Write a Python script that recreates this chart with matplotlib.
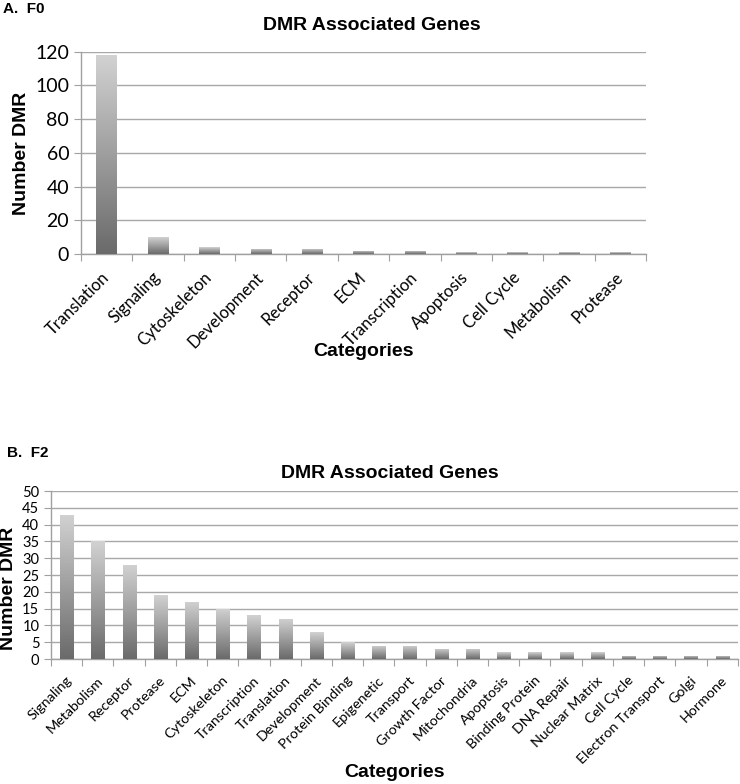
import numpy as np
import matplotlib
matplotlib.use("Agg")
import matplotlib.pyplot as plt
import matplotlib.transforms as mtransforms
from matplotlib.colors import LinearSegmentedColormap

cats_f0 = ["Translation", "Signaling", "Cytoskeleton", "Development", "Receptor", "ECM",
           "Transcription", "Apoptosis", "Cell Cycle", "Metabolism", "Protease"]
vals_f0 = [118, 10, 4, 3, 3, 2, 2, 1, 1, 1, 1]

cats_f2 = ["Signaling", "Metabolism", "Receptor", "Protease", "ECM", "Cytoskeleton",
           "Transcription", "Translation", "Development", "Protein Binding", "Epigenetic",
           "Transport", "Growth Factor", "Mitochondria", "Apoptosis", "Binding Protein",
           "DNA Repair", "Nuclear Matrix", "Cell Cycle", "Electron Transport", "Golgi", "Hormone"]
vals_f2 = [43, 35, 28, 19, 17, 15, 13, 12, 8, 5, 4, 4, 3, 3, 2, 2, 2, 2, 1, 1, 1, 1]

yticks_f0 = [0, 20, 40, 60, 80, 100, 120]
yticks_f2 = [0, 5, 10, 15, 20, 25, 30, 35, 40, 45, 50]

LABEL_FONT = "Lato"
BOLD_FONT = "Liberation Sans"
cmap = LinearSegmentedColormap.from_list("g", ["#6a6a6a", "#d2d2d2"])
grad = np.linspace(0, 1, 256).reshape(-1, 1)

fig = plt.figure(figsize=(7.4, 7.84), dpi=100)


def draw(ax, cats, vals, yticks, width, tick_fs, ylab_fs, pad, dx):
    x = np.arange(len(cats))
    bars = ax.bar(x, vals, width=width, color="none", edgecolor="none", zorder=3)
    for b in bars:
        x0, y0 = b.get_x(), b.get_y()
        w, h = b.get_width(), b.get_height()
        im = ax.imshow(grad, cmap=cmap, origin="lower", aspect="auto",
                       extent=(x0, x0 + w, y0, y0 + h), zorder=3)
        im.set_clip_path(b)
    ax.set_xlim(-0.5, len(cats) - 0.5)
    ax.set_ylim(yticks[0], yticks[-1])
    ax.set_yticks(yticks)
    ax.yaxis.grid(True, color="#a8a8a8", linewidth=1.0, zorder=0)
    ax.set_axisbelow(True)
    for s in ["top", "right"]:
        ax.spines[s].set_visible(False)
    for s in ["left", "bottom"]:
        ax.spines[s].set_color("#a0a0a0")
        ax.spines[s].set_linewidth(1.0)
    ax.set_xticks(np.arange(len(cats) + 1) - 0.5, minor=False)
    ax.set_xticklabels([])
    ax.tick_params(axis="x", which="major", length=5, color="#a0a0a0", direction="out")
    ax.set_xticks(x, minor=True)
    labels = ax.set_xticklabels(cats, minor=True, rotation=45, ha="right", va="center",
                                rotation_mode="anchor", fontsize=tick_fs, family=LABEL_FONT)
    ax.tick_params(axis="x", which="minor", length=0, pad=pad)
    off = mtransforms.ScaledTranslation(dx / 100, 0, fig.dpi_scale_trans)
    for t in labels:
        t.set_transform(t.get_transform() + off)
    ax.tick_params(axis="y", length=5, color="#a0a0a0", direction="out",
                   labelsize=ylab_fs)
    for t in ax.get_yticklabels():
        t.set_family(LABEL_FONT)
    ax.set_ylabel("Number DMR", fontsize=14, fontweight="bold", family=BOLD_FONT)
    ax.set_xlabel("Categories", fontsize=14, fontweight="bold", family=BOLD_FONT)
    return ax


ax1 = fig.add_axes([0.1095, 0.676, 0.7635, 0.258])
draw(ax1, cats_f0, vals_f0, yticks_f0, 0.4, 12, 14, 15, 0)
ax1.xaxis.set_label_coords(0.5, -0.44)
ax1.yaxis.set_label_coords(-0.09, 0.5)

ax2 = fig.add_axes([0.069, 0.1594, 0.928, 0.2143])
draw(ax2, cats_f2, vals_f2, yticks_f2, 0.42, 10.3, 10.5, 14, 3)
ax2.xaxis.set_label_coords(0.5, -0.625)
ax2.yaxis.set_label_coords(-0.049, 0.42)

fig.text(372 / 740, 1 - 25 / 784, "DMR Associated Genes", ha="center", va="center",
         fontsize=14, fontweight="bold", family=BOLD_FONT)
fig.text(390 / 740, 1 - 473 / 784, "DMR Associated Genes", ha="center", va="center",
         fontsize=14, fontweight="bold", family=BOLD_FONT)
fig.text(3 / 740, 1 - 9 / 784, "A.  F0", ha="left", va="center",
         fontsize=11, fontweight="bold", family=BOLD_FONT)
fig.text(7 / 740, 1 - 453 / 784, "B.  F2", ha="left", va="center",
         fontsize=11, fontweight="bold", family=BOLD_FONT)

fig.savefig("out.png", dpi=100)
